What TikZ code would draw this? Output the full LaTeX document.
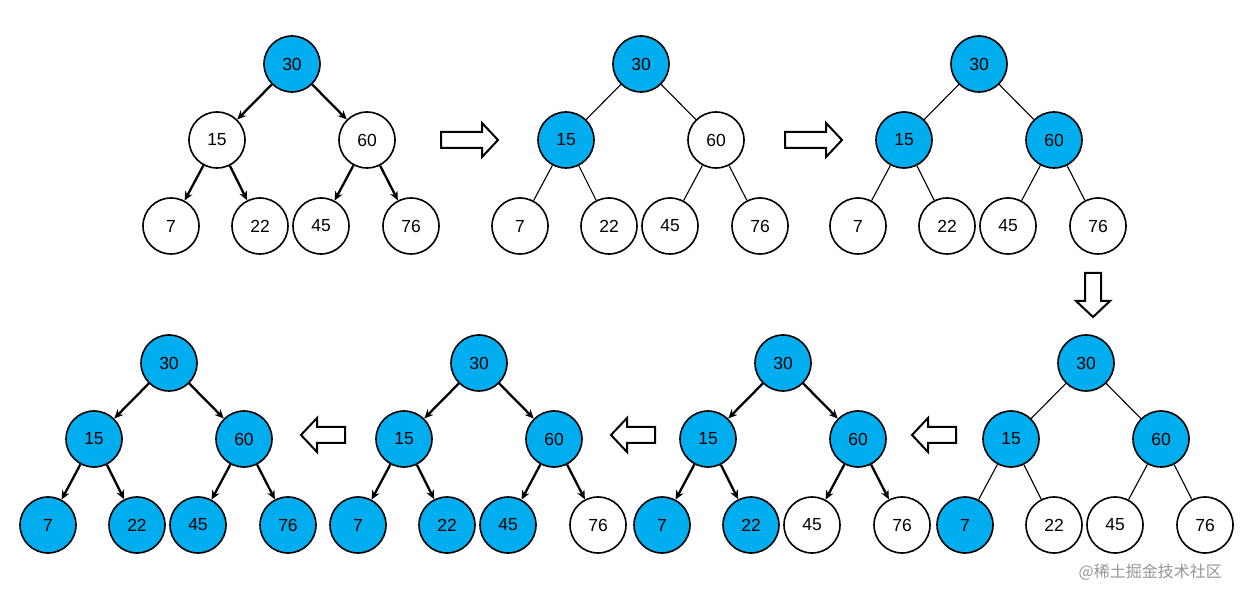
\documentclass[tikz,border=0pt]{standalone}
\usepackage{fontspec}
\setmainfont{Liberation Sans}
\newfontfamily\cjkfont{Noto Sans CJK SC}
\usetikzlibrary{arrows.meta}
\definecolor{heapblue}{RGB}{0,174,239}
\definecolor{markgray}{RGB}{150,150,150}
\tikzset{
  hn/.style={circle, draw=black, line width=1.6pt, minimum size=56pt, inner sep=0pt, font=\fontsize{17.5}{17.5}\selectfont},
  wn/.style={hn, fill=white},
  bn/.style={hn, fill=heapblue},
  arr/.style={line width=2.3pt, -{Stealth[length=9pt,width=8pt]}},
  ln/.style={line width=1.1pt},
  barrow/.style={draw=black, fill=white, line width=2pt, line join=miter},
}
% #1 prefix, #2 root position, #3 edge style, #4..#9 styles of 15,60,7,22,45,76
\newcommand\heaptree[9]{%
  \begin{scope}[shift={#2}]
    \node[bn] (#1r) at (0,0) {30};
    \node[#4] (#1a) at (-75,76) {15};
    \node[#5] (#1b) at (75,76) {60};
    \node[#6] (#1c) at (-121,162) {7};
    \node[#7] (#1d) at (-32,162) {22};
    \node[#8] (#1e) at (29,162) {45};
    \node[#9] (#1f) at (119,162) {76};
    \draw[#3] (#1r) -- (#1a);
    \draw[#3] (#1r) -- (#1b);
    \draw[#3] (#1a) -- (#1c);
    \draw[#3] (#1a) -- (#1d);
    \draw[#3] (#1b) -- (#1e);
    \draw[#3] (#1b) -- (#1f);
  \end{scope}}
% block arrow: tail at #1, rotation #2, length #3
\newcommand\blockarrow[3]{%
  \begin{scope}[shift={#1}, rotate=#2]
    \draw[barrow] (0,-8) -- ({#3-16},-8) -- ({#3-16},-17) -- (#3,0) -- ({#3-16},17) -- ({#3-16},8) -- (0,8) -- cycle;
  \end{scope}}
\begin{document}
\begin{tikzpicture}[x=1pt,y=-1pt]
  \useasboundingbox (0,0) rectangle (1240,601);
  \fill[white] (0,0) rectangle (1240,601);
  \heaptree{t}{(292,64)}{arr}{wn}{wn}{wn}{wn}{wn}{wn}
  \heaptree{u}{(641,64)}{ln}{bn}{wn}{wn}{wn}{wn}{wn}
  \heaptree{v}{(979,64)}{ln}{bn}{bn}{wn}{wn}{wn}{wn}
  \heaptree{w}{(1086,363)}{ln}{bn}{bn}{bn}{wn}{wn}{wn}
  \heaptree{x}{(783,363)}{arr}{bn}{bn}{bn}{bn}{wn}{wn}
  \heaptree{y}{(479,363)}{arr}{bn}{bn}{bn}{bn}{bn}{wn}
  \heaptree{z}{(169,363)}{arr}{bn}{bn}{bn}{bn}{bn}{bn}
  \blockarrow{(441,140)}{0}{57}
  \blockarrow{(785,140)}{0}{57}
  \blockarrow{(1093,273)}{-90}{44}
  \blockarrow{(956,435)}{180}{44}
  \blockarrow{(655,435)}{180}{44}
  \blockarrow{(345,435)}{180}{44}
  \node[anchor=east, text=markgray, font=\cjkfont\fontsize{16}{16}\selectfont, inner sep=0pt] (wm) at (1222,572) {@稀土掘金技术社区};
\end{tikzpicture}
\end{document}
